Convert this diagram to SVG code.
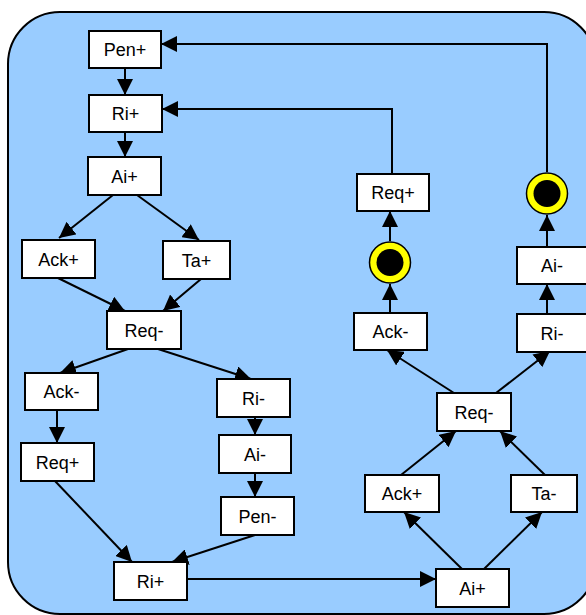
<svg xmlns="http://www.w3.org/2000/svg" width="586" height="615" viewBox="0 0 586 615">
  <style>
    .box { fill: #ffffff; stroke: #000000; stroke-width: 2; }
    .lbl { font-family: "Liberation Sans", Arial, sans-serif; font-size: 18px; fill: #000000; text-anchor: middle; }
    .edge { fill: none; stroke: #000000; stroke-width: 2; marker-end: url(#arrow); }
    .ring { fill: #ffff00; stroke: #000000; stroke-width: 1.5; }
    .dot { fill: #000000; }
  </style>
  <defs>
    <marker id="arrow" markerUnits="userSpaceOnUse" markerWidth="16" markerHeight="16" refX="16" refY="8" orient="auto">
      <path d="M0,0 L16,8 L0,16 z" fill="#000000"/>
    </marker>
  </defs>

  <!-- background panel -->
  <rect x="8" y="12" width="588" height="602" rx="52" ry="52" fill="#99ccff" stroke="#000000" stroke-width="2"/>

  <!-- connectors -->
  <g id="connectors">
    <path class="edge" d="M125,68 V95"/>
    <path class="edge" d="M125,132 V157"/>
    <path class="edge" d="M113,195 L59,238"/>
    <path class="edge" d="M137,195 L199,240"/>
    <path class="edge" d="M58,278 L125,311"/>
    <path class="edge" d="M201,279 L163,311"/>
    <path class="edge" d="M128,349 L60,373"/>
    <path class="edge" d="M158,349 L251,379"/>
    <path class="edge" d="M57,410 V443"/>
    <path class="edge" d="M255,417 V435"/>
    <path class="edge" d="M255,473 V497"/>
    <path class="edge" d="M55,481 L132,562"/>
    <path class="edge" d="M255,535 L172,562"/>
    <path class="edge" d="M187,579 H436"/>
    <path class="edge" d="M462,569 L404,512"/>
    <path class="edge" d="M484,569 L542,512"/>
    <path class="edge" d="M401,475 L456,431"/>
    <path class="edge" d="M545,475 L500,431"/>
    <path class="edge" d="M454,393 L387,350"/>
    <path class="edge" d="M496,393 L550,351"/>
    <path class="edge" d="M390,313 V284"/>
    <path class="edge" d="M390,241 V211"/>
    <path class="edge" d="M547,314 V284"/>
    <path class="edge" d="M547,247 V215"/>
    <path class="edge" d="M392,174 V109 H162"/>
    <path class="edge" d="M547,172 V44 H161"/>
  </g>

  <!-- left branch -->
  <g id="pen-plus"><rect class="box" x="89" y="31" width="72" height="37"/><text class="lbl" x="125" y="56">Pen+</text></g>
  <g id="ri-plus-top"><rect class="box" x="89" y="95" width="73" height="37"/><text class="lbl" x="125.5" y="120">Ri+</text></g>
  <g id="ai-plus-top"><rect class="box" x="88" y="157" width="73" height="38"/><text class="lbl" x="124.5" y="182.5">Ai+</text></g>
  <g id="ack-plus-left"><rect class="box" x="22" y="240" width="73" height="38"/><text class="lbl" x="58.5" y="265.5">Ack+</text></g>
  <g id="ta-plus"><rect class="box" x="163" y="241" width="67" height="38"/><text class="lbl" x="196.5" y="266.5">Ta+</text></g>
  <g id="req-minus-left"><rect class="box" x="107" y="311" width="74" height="38"/><text class="lbl" x="144" y="336.5">Req-</text></g>
  <g id="ack-minus-left"><rect class="box" x="25" y="373" width="73" height="37"/><text class="lbl" x="61.5" y="398">Ack-</text></g>
  <g id="ri-minus-left"><rect class="box" x="217" y="379" width="73" height="38"/><text class="lbl" x="253.5" y="404.5">Ri-</text></g>
  <g id="req-plus-left"><rect class="box" x="21" y="443" width="73" height="38"/><text class="lbl" x="57.5" y="468.5">Req+</text></g>
  <g id="ai-minus-left"><rect class="box" x="219" y="435" width="72" height="38"/><text class="lbl" x="255" y="460.5">Ai-</text></g>
  <g id="pen-minus"><rect class="box" x="221" y="497" width="73" height="38"/><text class="lbl" x="257.5" y="522.5">Pen-</text></g>
  <g id="ri-plus-bottom"><rect class="box" x="114" y="562" width="73" height="38"/><text class="lbl" x="150.5" y="587.5">Ri+</text></g>

  <!-- right branch -->
  <g id="ai-plus-bottom"><rect class="box" x="436" y="569" width="73" height="38"/><text class="lbl" x="472.5" y="594.5">Ai+</text></g>
  <g id="ack-plus-right"><rect class="box" x="365" y="475" width="74" height="37"/><text class="lbl" x="402" y="500">Ack+</text></g>
  <g id="ta-minus"><rect class="box" x="511" y="475" width="66" height="37"/><text class="lbl" x="544" y="500">Ta-</text></g>
  <g id="req-minus-right"><rect class="box" x="437" y="393" width="74" height="38"/><text class="lbl" x="474" y="418.5">Req-</text></g>
  <g id="ack-minus-right"><rect class="box" x="354" y="313" width="73" height="37"/><text class="lbl" x="390.5" y="338">Ack-</text></g>
  <g id="ri-minus-right"><rect class="box" x="517" y="314" width="73" height="38"/><text class="lbl" x="552" y="339.5">Ri-</text></g>
  <g id="ai-minus-right"><rect class="box" x="517" y="247" width="73" height="37"/><text class="lbl" x="552" y="272">Ai-</text></g>
  <g id="req-plus-right"><rect class="box" x="357" y="174" width="72" height="37"/><text class="lbl" x="393" y="199">Req+</text></g>

  <!-- tokens -->
  <g id="token-left"><circle class="ring" cx="390" cy="262.5" r="20.5"/><circle class="dot" cx="390" cy="262.5" r="13.5"/></g>
  <g id="token-right"><circle class="ring" cx="547" cy="193.5" r="20.5"/><circle class="dot" cx="547" cy="193.5" r="13.5"/></g>
</svg>
